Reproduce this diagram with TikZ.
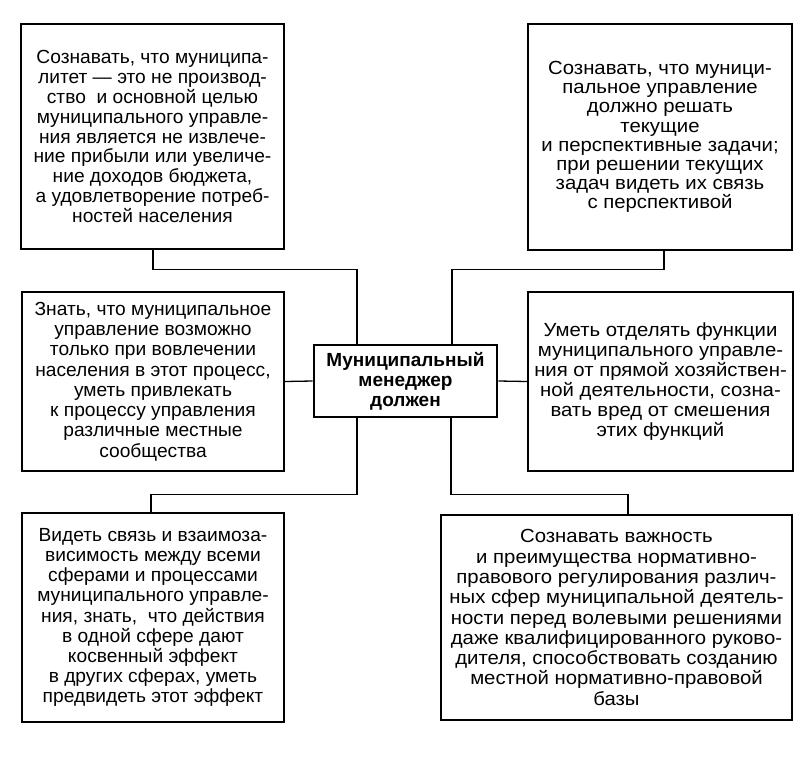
\documentclass[tikz,border=0pt]{standalone}
\usepackage{fontspec}
\setmainfont{Liberation Sans}
\newfontfamily\widefont{Liberation Sans}[FakeStretch=1.07]
\newfontfamily\leftfont{Liberation Sans}[FakeStretch=1.01]
\begin{document}
\begin{tikzpicture}[x=1pt,y=-1pt,
  box/.style={draw, line width=1.4pt, inner sep=0pt, align=center,
    font=\leftfont\fontsize{19}{19.9}\selectfont},
  rbox/.style={box, font=\widefont\fontsize{19}{19.9}\selectfont},
  hub/.style={draw, line width=2.8pt, inner sep=0pt, align=center,
    font=\fontsize{19}{20}\selectfont\bfseries,
    minimum width=183pt, minimum height=72pt},
  link/.style={line width=1.3pt}]
\useasboundingbox (0,0) rectangle (804,772);

\node[box, minimum width=263pt, minimum height=225pt] (tl) at (152.5,136.5)
 {Сознавать, что муниципа-\\литет — это не производ-\\ство\ \ и основной целью\\муниципального управле-\\ния является не извлече-\\ние прибыли или увеличе-\\ние доходов бюджета,\\а удовлетворение потреб-\\ностей населения};

\node[rbox, minimum width=264pt, minimum height=226pt,
  font=\widefont\fontsize{19}{19.2}\selectfont] (tr) at (660,137)
 {Сознавать, что муници-\\пальное управление\\должно решать\\текущие\\и перспективные задачи;\\при решении текущих\\задач видеть их связь\\с перспективой};

\node[box, minimum width=262pt, minimum height=179pt,
  font=\leftfont\fontsize{19}{20.3}\selectfont] (ml) at (153,381.5)
 {Знать, что муниципальное\\управление возможно\\только при вовлечении\\населения в этот процесс,\\уметь привлекать\\к процессу управления\\различные местные\\сообщества};

\node[rbox, minimum width=265pt, minimum height=179pt] (mr) at (660.5,381.5)
 {Уметь отделять функции\\муниципального управле-\\ния от прямой хозяйствен-\\ной деятельности, созна-\\вать вред от смешения\\этих функций};

\node[hub] (c) at (405.5,381) {Муниципальный\\менеджер\\должен};

\node[box, minimum width=262pt, minimum height=209pt,
  font=\leftfont\fontsize{19}{20.2}\selectfont] (bl) at (153,617.5)
 {Видеть связь и взаимоза-\\висимость между всеми\\сферами и процессами\\муниципального управле-\\ния, знать,\ \ что действия\\в одной сфере дают\\косвенный эффект\\в других сферах, уметь\\предвидеть этот эффект};

\node[rbox, minimum width=351pt, minimum height=205pt,
  font=\widefont\fontsize{19}{20.3}\selectfont] (br) at (616.5,617.5)
 {Сознавать важность\\и преимущества нормативно-\\правового регулирования различ-\\ных сфер муниципальной деятель-\\ности перед волевыми решениями\\даже квалифицированного руково-\\дителя, способствовать созданию\\местной нормативно-правовой\\базы};

\draw[link] ([xshift=0.5pt]tl.south) -- ++(0,20) -| ([xshift=-48.5pt]c.north);
\draw[link] ([xshift=4pt]tr.south) -- ++(0,19) -| ([xshift=46.5pt]c.north);
\draw[link] (ml.east) -- (c.west);
\draw[link] (c.east) -- (mr.west);
\draw[link] ([xshift=-48.5pt]c.south) -- ++(0,76) -| ([xshift=-2pt]bl.north);
\draw[link] ([xshift=45.5pt]c.south) -- ++(0,76) -| ([xshift=11.5pt]br.north);
\end{tikzpicture}
\end{document}
